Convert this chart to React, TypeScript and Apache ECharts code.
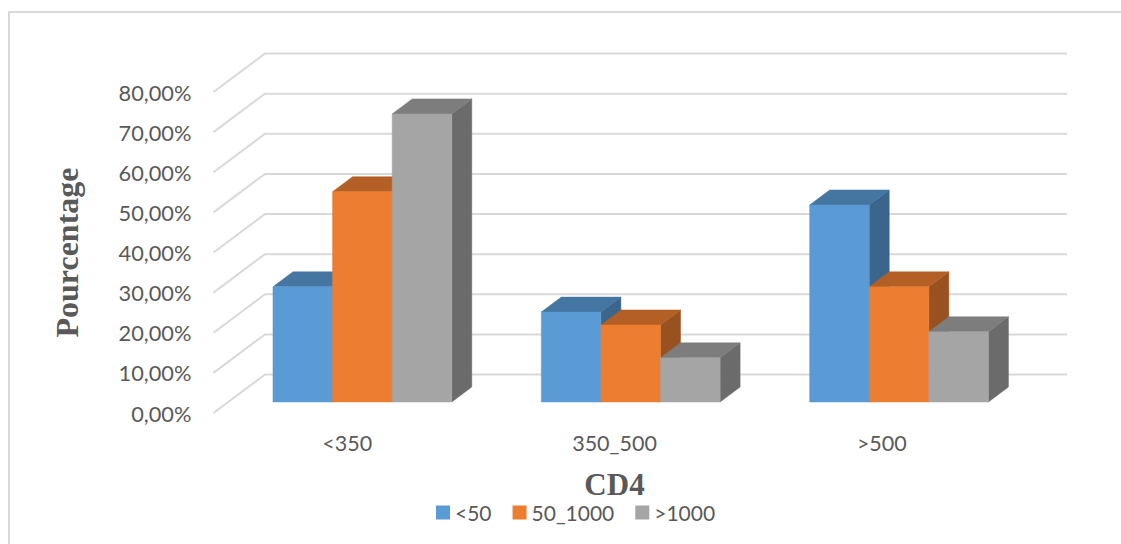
import React, { useEffect, useRef } from "react";
import * as echarts from "echarts";

const categories = ["<350", "350_500", ">500"];
const seriesNames = ["<50", "50_1000", ">1000"];
const under50 = [28.7, 22.4, 49.1];
const from50To1000 = [52.4, 19.2, 28.7];
const over1000 = [71.8, 11.0, 17.5];
const yTicks = [0, 10, 20, 30, 40, 50, 60, 70, 80];

const faceColors = ["#5B9BD5", "#ED7D31", "#A5A5A5"];
const topColors = ["#4576A2", "#B45F25", "#7D7D7D"];
const sideColors = ["#3B658A", "#9A5120", "#6B6B6B"];

const TEXT = "#595959";
const SANS = "Lato";
const SERIF = "Liberation Serif";

// Oblique projection: how far each plane sits behind the front of the floor.
const WALL_DX = 51.5;
const WALL_DY = -38.5;
const BAR_DX = 15.2;
const BAR_DY = -11;
const BAR_DEPTH_X = 20;
const BAR_DEPTH_Y = -15;
const BAR_WIDTH = 59.6;
// The bar plane is slightly wider than the front edge of the floor.
const BAR_PLANE_SPREAD = 1;

const wallRenderer = (params: any, api: any) => {
  const y = api.coord([0, api.value(1)])[1];
  const x0 = params.coordSys.x;
  const x1 = x0 + params.coordSys.width;
  return {
    type: "polyline",
    shape: {
      points: [
        [x0, y],
        [x0 + WALL_DX, y + WALL_DY],
        [x1 + WALL_DX, y + WALL_DY],
      ],
    },
    style: { stroke: "#D9D9D9", lineWidth: 2, fill: "none" },
  };
};

const barRenderer = (seriesIndex: number) => (_params: any, api: any) => {
  const [cx, topFront] = api.coord([api.value(0), api.value(1)]);
  const [, baseFront] = api.coord([api.value(0), 0]);
  const left =
    cx + BAR_DX + api.value(0) * BAR_PLANE_SPREAD + (seriesIndex - 1.5) * BAR_WIDTH;
  const right = left + BAR_WIDTH;
  const top = topFront + BAR_DY;
  const base = baseFront + BAR_DY;
  const polygon = (points: number[][], fill: string) => ({
    type: "polygon",
    shape: { points },
    style: { fill, stroke: fill, lineWidth: 0.5 },
  });
  return {
    type: "group",
    children: [
      polygon(
        [
          [right, top],
          [right + BAR_DEPTH_X, top + BAR_DEPTH_Y],
          [right + BAR_DEPTH_X, base + BAR_DEPTH_Y],
          [right, base],
        ],
        sideColors[seriesIndex]
      ),
      polygon(
        [
          [left, top],
          [left + BAR_DEPTH_X, top + BAR_DEPTH_Y],
          [right + BAR_DEPTH_X, top + BAR_DEPTH_Y],
          [right, top],
        ],
        topColors[seriesIndex]
      ),
      polygon(
        [
          [left, top],
          [right, top],
          [right, base],
          [left, base],
        ],
        faceColors[seriesIndex]
      ),
    ],
  };
};

export default function App() {
  const ref = useRef<HTMLDivElement>(null);

  useEffect(() => {
    document.body.style.margin = "0";
    const chart = echarts.init(ref.current!, undefined, { renderer: "svg" });
    const values = [under50, from50To1000, over1000];
    chart.setOption({
      animation: false,
      backgroundColor: "#FFFFFF",
      graphic: [
        {
          type: "polyline",
          silent: true,
          shape: {
            points: [
              [9, 544],
              [9, 12],
              [1121, 12],
            ],
          },
          style: { stroke: "#D9D9D9", lineWidth: 2, fill: "none" },
        },
      ],
      grid: { left: 213.5, top: 92, width: 802, height: 321, containLabel: false },
      xAxis: {
        type: "category",
        data: categories,
        name: "CD4",
        nameLocation: "middle",
        nameGap: 56,
        nameTextStyle: {
          fontFamily: SERIF,
          fontWeight: "bold",
          fontSize: 31,
          color: TEXT,
        },
        axisLine: { show: false },
        axisTick: { show: false },
        splitLine: { show: false },
        axisLabel: { fontFamily: SANS, fontSize: 21.5, color: TEXT, margin: 19 },
      },
      yAxis: {
        type: "value",
        min: 0,
        max: 80,
        interval: 10,
        name: "Pourcentage",
        nameLocation: "middle",
        nameGap: 131,
        nameTextStyle: {
          fontFamily: SERIF,
          fontWeight: "bold",
          fontSize: 32,
          color: TEXT,
        },
        axisLine: { show: false },
        axisTick: { show: false },
        splitLine: { show: false },
        axisLabel: {
          fontFamily: SANS,
          fontSize: 21.8,
          color: TEXT,
          margin: 22,
          formatter: (v: number) => `${v.toFixed(2).replace(".", ",")}%`,
        },
      },
      legend: {
        data: seriesNames,
        left: 436,
        top: 502,
        padding: 0,
        itemWidth: 14,
        itemHeight: 14,
        itemGap: 21,
        icon: "rect",
        selectedMode: false,
        textStyle: { fontFamily: SANS, fontSize: 21, color: TEXT },
      },
      series: [
        {
          type: "custom",
          name: "wall",
          silent: true,
          clip: false,
          z: 1,
          renderItem: wallRenderer,
          encode: { x: 0, y: 1 },
          data: yTicks.map((t) => [0, t]),
        },
        ...seriesNames.map((name, si) => ({
          type: "custom",
          name,
          silent: true,
          clip: false,
          z: 2 + si,
          itemStyle: { color: faceColors[si] },
          renderItem: barRenderer(si),
          encode: { x: 0, y: 1 },
          data: values[si].map((v, i) => [i, v]),
        })),
      ],
    });
    return () => chart.dispose();
  }, []);

  return <div ref={ref} style={{ width: 1121, height: 544 }} />;
}
